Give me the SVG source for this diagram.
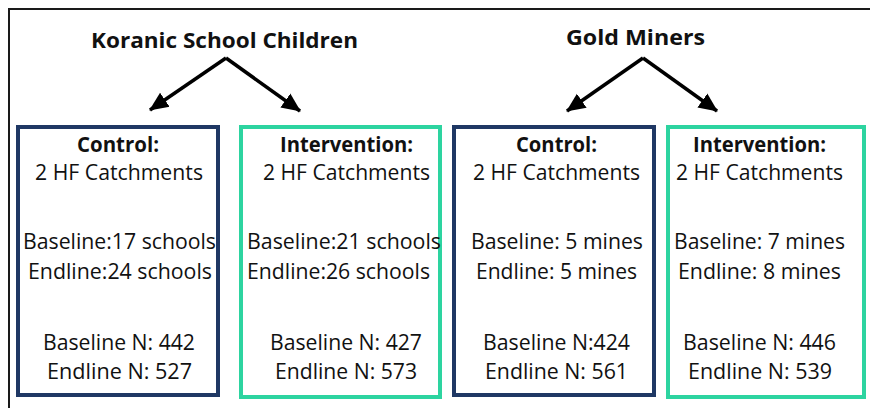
<svg xmlns="http://www.w3.org/2000/svg" width="870" height="408" viewBox="0 0 870 408">
  <style>
    text { font-family: "Open Sans", "Noto Sans", "Liberation Sans", sans-serif; fill: #111; }
    .title { font-size: 22px; font-weight: bold; }
    .head { font-size: 21.5px; font-weight: bold; }
    .body { font-size: 22px; }
    .navy { fill: #fff; stroke: #1f3864; stroke-width: 4; }
    .teal { fill: #fff; stroke: #2dd4a0; stroke-width: 4; }
    .conn { stroke: #000; stroke-width: 3.5; fill: none; marker-end: url(#arrow); }
  </style>
  <defs>
    <marker id="arrow" markerUnits="userSpaceOnUse" markerWidth="20" markerHeight="20" viewBox="0 0 20 20" refX="18" refY="10" orient="auto">
      <path d="M0,1.5 L19,10 L0,18.5 Z" fill="#000"/>
    </marker>
  </defs>

  <rect width="870" height="408" fill="#fff"/>
  <!-- outer frame -->
  <path d="M9,408 V9 H870" fill="none" stroke="#1a1a1a" stroke-width="2"/>

  <!-- group titles -->
  <g id="koranic-title">
    <text class="title" x="91" y="48" textLength="267" lengthAdjust="spacingAndGlyphs">Koranic School Children</text>
  </g>
  <g id="gold-title">
    <text class="title" x="566" y="45" textLength="139" lengthAdjust="spacingAndGlyphs">Gold Miners</text>
  </g>

  <!-- connectors -->
  <g id="connectors">
    <path class="conn" d="M226,58 L150,110"/>
    <path class="conn" d="M226,58 L300,111"/>
    <path class="conn" d="M643,58 L567,111"/>
    <path class="conn" d="M643,58 L717,111"/>
  </g>

  <!-- Koranic control -->
  <g id="koranic-control">
    <rect class="navy" x="18" y="127" width="200" height="268"/>
    <text class="head" x="77" y="152" textLength="82" lengthAdjust="spacingAndGlyphs">Control:</text>
    <text class="body" x="35" y="180" textLength="168" lengthAdjust="spacingAndGlyphs">2 HF Catchments</text>
    <text class="body" x="23" y="249" textLength="193" lengthAdjust="spacingAndGlyphs">Baseline:17 schools</text>
    <text class="body" x="28" y="279" textLength="184" lengthAdjust="spacingAndGlyphs">Endline:24 schools</text>
    <text class="body" x="43" y="350" textLength="152" lengthAdjust="spacingAndGlyphs">Baseline N: 442</text>
    <text class="body" x="47" y="379" textLength="145" lengthAdjust="spacingAndGlyphs">Endline N: 527</text>
  </g>

  <!-- Koranic intervention -->
  <g id="koranic-intervention">
    <rect class="teal" x="241" y="127" width="199" height="270"/>
    <text class="head" x="280" y="152" textLength="133" lengthAdjust="spacingAndGlyphs">Intervention:</text>
    <text class="body" x="263" y="180" textLength="167" lengthAdjust="spacingAndGlyphs">2 HF Catchments</text>
    <text class="body" x="247" y="249" textLength="194" lengthAdjust="spacingAndGlyphs">Baseline:21 schools</text>
    <text class="body" x="247" y="279" textLength="183" lengthAdjust="spacingAndGlyphs">Endline:26 schools</text>
    <text class="body" x="270" y="350" textLength="152" lengthAdjust="spacingAndGlyphs">Baseline N: 427</text>
    <text class="body" x="275" y="379" textLength="142" lengthAdjust="spacingAndGlyphs">Endline N: 573</text>
  </g>

  <!-- Gold miners control -->
  <g id="gold-control">
    <rect class="navy" x="454" y="127" width="200" height="268"/>
    <text class="head" x="516" y="152" textLength="81" lengthAdjust="spacingAndGlyphs">Control:</text>
    <text class="body" x="473" y="180" textLength="167" lengthAdjust="spacingAndGlyphs">2 HF Catchments</text>
    <text class="body" x="471" y="249" textLength="172" lengthAdjust="spacingAndGlyphs">Baseline: 5 mines</text>
    <text class="body" x="476" y="279" textLength="161" lengthAdjust="spacingAndGlyphs">Endline: 5 mines</text>
    <text class="body" x="483" y="350" textLength="147" lengthAdjust="spacingAndGlyphs">Baseline N:424</text>
    <text class="body" x="485" y="379" textLength="143" lengthAdjust="spacingAndGlyphs">Endline N: 561</text>
  </g>

  <!-- Gold miners intervention -->
  <g id="gold-intervention">
    <rect class="teal" x="668" y="127" width="196" height="270"/>
    <text class="head" x="693" y="152" textLength="133" lengthAdjust="spacingAndGlyphs">Intervention:</text>
    <text class="body" x="676" y="180" textLength="167" lengthAdjust="spacingAndGlyphs">2 HF Catchments</text>
    <text class="body" x="674" y="249" textLength="171" lengthAdjust="spacingAndGlyphs">Baseline: 7 mines</text>
    <text class="body" x="678" y="279" textLength="163" lengthAdjust="spacingAndGlyphs">Endline: 8 mines</text>
    <text class="body" x="683" y="350" textLength="153" lengthAdjust="spacingAndGlyphs">Baseline N: 446</text>
    <text class="body" x="688" y="379" textLength="144" lengthAdjust="spacingAndGlyphs">Endline N: 539</text>
  </g>
</svg>
